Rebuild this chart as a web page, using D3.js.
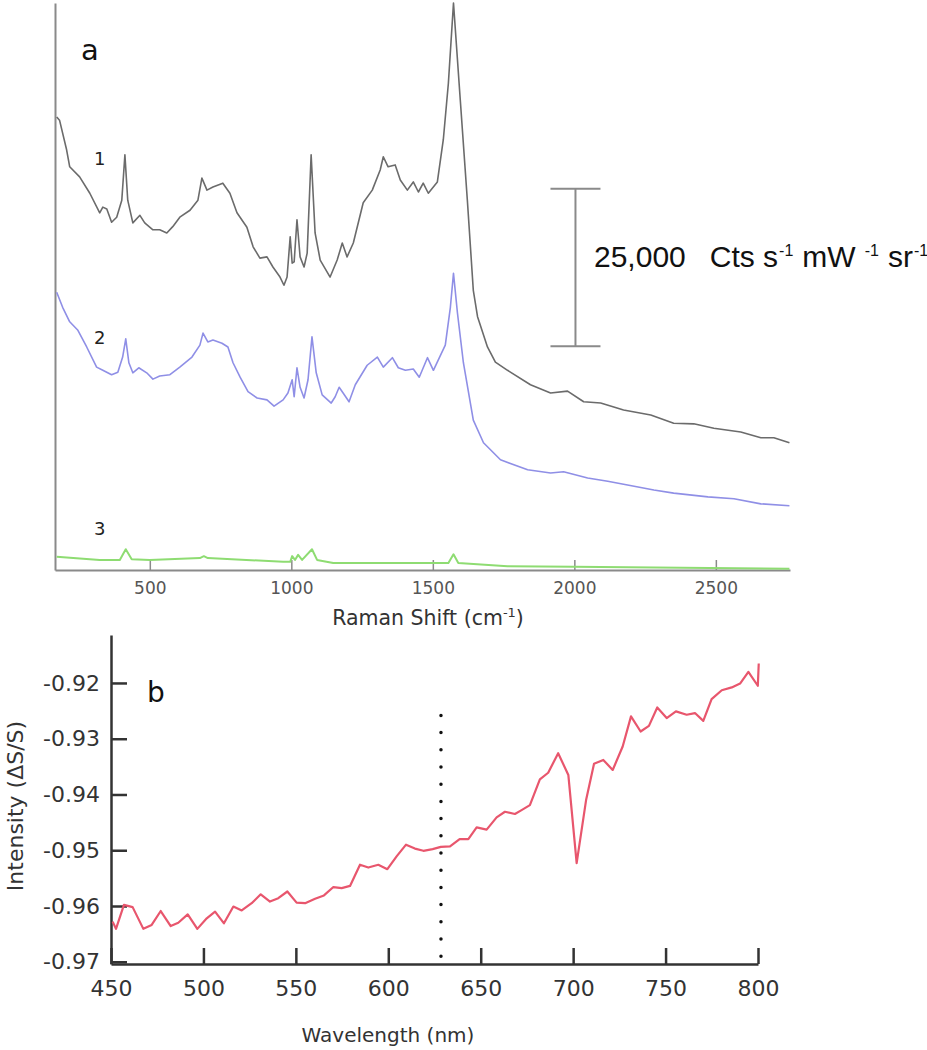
<!DOCTYPE html>
<html>
<head>
<meta charset="utf-8">
<script src="https://cdn.jsdelivr.net/npm/d3@7"></script>
<style>
  body { margin: 0; background: #fff; }
  svg { display: block; }
</style>
</head>
<body>
<div id="chart"></div>
<script>
// ---- panel a: Raman spectra (counts in thousands, arbitrary offset) ----
const spec1Shift = [171,181,206,217,252,288,323,334,348,365,383,401,412,422,440,465,482,511,535,560,581,606,642,670,684,702,723,758,783,808,843,865,889,914,935,960,974,985,996,1003,1010,1020,1031,1045,1056,1070,1084,1102,1137,1162,1180,1197,1219,1254,1286,1314,1325,1342,1367,1385,1410,1431,1449,1466,1484,1516,1537,1555,1573,1597,1622,1643,1658,1693,1721,1764,1845,1916,1976,2033,2093,2174,2270,2351,2422,2493,2588,2659,2705,2760];
const spec1Counts = [71.9,71.4,66.7,64.0,62.4,59.8,56.7,57.6,57.3,55.2,56.0,58.7,65.9,58.7,55.1,56.3,55.1,54.0,54.0,53.5,54.5,56.0,57.1,58.7,62.2,60.3,60.8,61.4,59.8,56.7,54.4,51.3,49.5,49.7,48.1,46.5,45.2,46.5,52.9,48.7,48.9,55.6,49.7,48.1,50.3,65.9,53.5,49.2,46.5,49.2,51.9,49.7,51.9,58.3,60.3,63.5,65.6,64.0,64.3,61.9,60.3,61.6,60.0,61.4,59.8,61.6,68.3,77.3,90.0,74.6,58.7,44.4,40.2,35.4,33.0,31.7,29.4,28.1,28.4,26.7,26.5,25.4,24.6,23.3,23.2,22.5,21.9,21.0,21.0,20.2];

const spec2Shift = [171,192,217,245,277,312,334,365,387,404,415,426,440,461,489,511,535,571,606,649,677,688,705,723,755,776,794,819,847,879,914,939,971,988,1003,1010,1020,1031,1045,1059,1073,1088,1109,1141,1155,1169,1183,1204,1226,1268,1304,1325,1357,1378,1403,1431,1452,1481,1502,1519,1544,1562,1573,1587,1608,1643,1679,1739,1835,1916,1962,2047,2118,2188,2281,2351,2472,2564,2659,2760];
const spec2Counts = [44.1,41.7,39.4,38.1,35.4,32.2,31.7,31.0,31.4,33.8,36.7,32.9,31.3,32.1,31.3,30.3,30.8,31.0,32.2,33.8,35.7,37.6,36.2,36.5,36.0,35.4,32.9,30.6,28.3,27.3,27.0,26.0,27.0,28.1,30.2,27.5,32.1,29.0,27.3,30.2,37.0,31.3,27.8,26.5,27.5,29.0,28.1,26.7,29.4,32.5,33.8,32.2,33.7,32.1,31.7,31.9,30.6,33.7,31.7,33.3,35.7,41.7,47.1,40.8,32.9,23.8,20.2,17.5,15.9,15.4,15.6,14.6,14.1,13.5,12.7,12.2,11.6,11.3,10.5,10.2];

const spec3Shift = [171,323,394,415,436,500,677,691,705,971,996,1003,1013,1024,1038,1073,1091,1148,1481,1555,1573,1590,1764,1997,2760];
const spec3Counts = [2.1,1.6,1.6,3.3,1.7,1.6,1.9,2.2,1.9,1.3,1.3,2.2,1.6,2.4,1.6,3.3,1.6,1.1,1.1,1.1,2.5,1.1,0.6,0.5,0.2];

const shiftTicks = [500, 1000, 1500, 2000, 2500];
const scaleBarShift = 2004;
const scaleBarCounts = [35.5, 60.5]; // 25,000 counts

// ---- panel b: differential reflectance ----
const wavelength = [450.9,452.7,457,461.7,467.5,472,476.9,482.3,486.4,491.5,496.7,501.8,506.3,511.1,516.2,520.7,526.1,531,536,540.5,545.4,550.4,555,560.4,565.2,570.3,574.8,579.3,584.7,589.2,594.6,599.5,604.5,609.6,614.4,619,624,628.4,633.4,638.6,643.3,647.8,653.2,658.6,663.1,668.5,672.1,676.6,682,686.5,691.9,697.4,701.9,707,711.3,716.3,721.4,726.8,731.3,736.5,741,745.5,750.6,755.6,761.4,765.9,770.4,774.9,780.4,785.8,790.3,794.8,799.9,800.4];
const intensity = [-0.9628,-0.9641,-0.9598,-0.9602,-0.9641,-0.9634,-0.9609,-0.9636,-0.9630,-0.9615,-0.9641,-0.9622,-0.9610,-0.9631,-0.9601,-0.9608,-0.9595,-0.9579,-0.9592,-0.9586,-0.9574,-0.9594,-0.9595,-0.9587,-0.9581,-0.9566,-0.9568,-0.9564,-0.9526,-0.9531,-0.9526,-0.9534,-0.9511,-0.9490,-0.9497,-0.9501,-0.9498,-0.9494,-0.9493,-0.9480,-0.9480,-0.9459,-0.9463,-0.9441,-0.9431,-0.9435,-0.9428,-0.9419,-0.9373,-0.9361,-0.9326,-0.9365,-0.9523,-0.9410,-0.9345,-0.9338,-0.9356,-0.9314,-0.9260,-0.9287,-0.9277,-0.9244,-0.9263,-0.9251,-0.9257,-0.9254,-0.9268,-0.9229,-0.9213,-0.9208,-0.9201,-0.9180,-0.9205,-0.9165];

const wavelengthTicks = [450, 500, 550, 600, 650, 700, 750, 800];
const intensityTicks = [-0.97, -0.96, -0.95, -0.94, -0.93, -0.92];
const markerWavelength = 628.5;
const markerRange = [-0.969, -0.9229];

const font = "'DejaVu Sans', Verdana, sans-serif";

const svg = d3
  .select('#chart')
  .append('svg')
  .attr('width', 927)
  .attr('height', 1050);

// ================= panel a =================
const xA = d3.scaleLinear().domain([165, 2762]).range([55, 790]);
const yA = d3.scaleLinear().domain([0, 90]).range([570, 3]);

const axA = svg
  .append('g')
  .attr('transform', 'translate(0,570)')
  .call(
    d3.axisBottom(xA)
      .tickValues(shiftTicks)
      .tickFormat(d3.format('d'))
      .tickSize(-10)
      .tickPadding(12)
      .tickSizeOuter(0)
  );
axA.select('.domain').attr('stroke', '#8a8a8a').attr('stroke-width', 2);
axA.selectAll('.tick line').attr('stroke', '#8a8a8a').attr('stroke-width', 1.5);
axA.selectAll('.tick text')
  .attr('font-family', font)
  .attr('font-size', 17)
  .attr('fill', '#555');

const ayA = svg
  .append('g')
  .attr('transform', 'translate(55,0)')
  .call(d3.axisLeft(yA).tickValues([]).tickSizeOuter(0));
ayA.select('.domain').attr('stroke', '#8a8a8a').attr('stroke-width', 2);

const lineA = d3
  .line()
  .x((d) => xA(d[0]))
  .y((d) => yA(d[1]));

const spectra = [
  { shift: spec1Shift, counts: spec1Counts, color: '#6b6b6b', width: 1.6 },
  { shift: spec2Shift, counts: spec2Counts, color: '#8f8fe6', width: 1.6 },
  { shift: spec3Shift, counts: spec3Counts, color: '#8edc72', width: 2 },
];

spectra.forEach((s) => {
  svg
    .append('path')
    .datum(d3.zip(s.shift, s.counts))
    .attr('fill', 'none')
    .attr('stroke', s.color)
    .attr('stroke-width', s.width)
    .attr('stroke-linejoin', 'round')
    .attr('d', lineA);
});

// curve numbers
[['1', 323, 64.3], ['2', 323, 35.9], ['3', 323, 5.6]].forEach(([t, x, y]) => {
  svg
    .append('text')
    .attr('x', xA(x))
    .attr('y', yA(y))
    .attr('text-anchor', 'middle')
    .attr('font-family', font)
    .attr('font-size', 18)
    .attr('fill', '#222')
    .text(t);
});

svg
  .append('text')
  .attr('x', 81)
  .attr('y', 60)
  .attr('font-family', font)
  .attr('font-size', 29)
  .attr('fill', '#111')
  .text('a');

// scale bar
const barX = xA(scaleBarShift);
svg
  .append('line')
  .attr('x1', barX).attr('x2', barX)
  .attr('y1', yA(scaleBarCounts[0])).attr('y2', yA(scaleBarCounts[1]))
  .attr('stroke', '#8a8a8a').attr('stroke-width', 2);
scaleBarCounts.forEach((c) => {
  svg
    .append('line')
    .attr('x1', barX - 25).attr('x2', barX + 25)
    .attr('y1', yA(c)).attr('y2', yA(c))
    .attr('stroke', '#8a8a8a').attr('stroke-width', 2);
});

const barText = svg
  .append('text')
  .attr('x', 594)
  .attr('y', 267)
  .attr('font-family', "'Liberation Sans', Arial, sans-serif")
  .attr('font-size', 30)
  .attr('fill', '#111');
// [text, gap before, raised, font size]
const barParts = [
  ['25,000', 0, 0, 30],
  ['Cts s', 24, 0, 30],
  ['-1', 1, 11, 16],
  ['mW', 9, 0, 30],
  ['-1', 9, 11, 16],
  ['sr', 9, 0, 30],
  ['-1', 1, 11, 16],
];
barParts.forEach(([t, gap, up, fs]) => {
  barText
    .append('tspan')
    .attr('dx', gap)
    .attr('y', 267 - up)
    .attr('font-size', fs)
    .text(t);
});

const titleA = svg
  .append('text')
  .attr('x', 428)
  .attr('y', 625)
  .attr('text-anchor', 'middle')
  .attr('font-family', font)
  .attr('font-size', 20.5)
  .attr('fill', '#333');
titleA.append('tspan').text('Raman Shift (cm');
titleA.append('tspan').attr('font-size', 13).attr('dy', -8).text('-1');
titleA.append('tspan').attr('dy', 8).text(')');

// ================= panel b =================
const xB = d3.scaleLinear().domain([450, 800]).range([111, 758]);
const yB = d3.scaleLinear().domain([-0.9704, -0.9114]).range([964, 635]);

const axB = svg
  .append('g')
  .attr('transform', 'translate(0,964)')
  .call(d3.axisBottom(xB).tickValues(wavelengthTicks).tickSize(-16).tickPadding(16).tickSizeOuter(0));

const ayB = svg
  .append('g')
  .attr('transform', 'translate(111,0)')
  .call(
    d3.axisLeft(yB)
      .tickValues(intensityTicks)
      .tickSize(-16)
      .tickPadding(11)
      .tickSizeOuter(0)
      .tickFormat((d) => d.toFixed(2))
  );

[axB, ayB].forEach((g) => {
  g.select('.domain').attr('stroke', '#333').attr('stroke-width', 2.5);
  g.selectAll('.tick line').attr('stroke', '#333').attr('stroke-width', 2.5);
  g.selectAll('.tick text')
    .attr('font-family', font)
    .attr('font-size', 22)
    .attr('fill', '#333');
});

// dotted marker
svg
  .append('line')
  .attr('x1', xB(markerWavelength)).attr('x2', xB(markerWavelength))
  .attr('y1', yB(markerRange[0])).attr('y2', yB(markerRange[1]))
  .attr('stroke', '#111')
  .attr('stroke-width', 3.5)
  .attr('stroke-linecap', 'round')
  .attr('stroke-dasharray', '0,17.2');

const lineB = d3
  .line()
  .x((d) => xB(d[0]))
  .y((d) => yB(d[1]));

svg
  .append('path')
  .datum(d3.zip(wavelength, intensity))
  .attr('fill', 'none')
  .attr('stroke', '#e8566d')
  .attr('stroke-width', 2.2)
  .attr('stroke-linejoin', 'round')
  .attr('d', lineB);

svg
  .append('text')
  .attr('x', 147)
  .attr('y', 702)
  .attr('font-family', font)
  .attr('font-size', 28)
  .attr('fill', '#111')
  .text('b');

svg
  .append('text')
  .attr('x', 388)
  .attr('y', 1042)
  .attr('text-anchor', 'middle')
  .attr('font-family', font)
  .attr('font-size', 20)
  .attr('fill', '#333')
  .text('Wavelength (nm)');

svg
  .append('text')
  .attr('transform', 'translate(23,806) rotate(-90)')
  .attr('text-anchor', 'middle')
  .attr('font-family', font)
  .attr('font-size', 22)
  .attr('fill', '#333')
  .text('Intensity (ΔS/S)');
</script>
</body>
</html>
